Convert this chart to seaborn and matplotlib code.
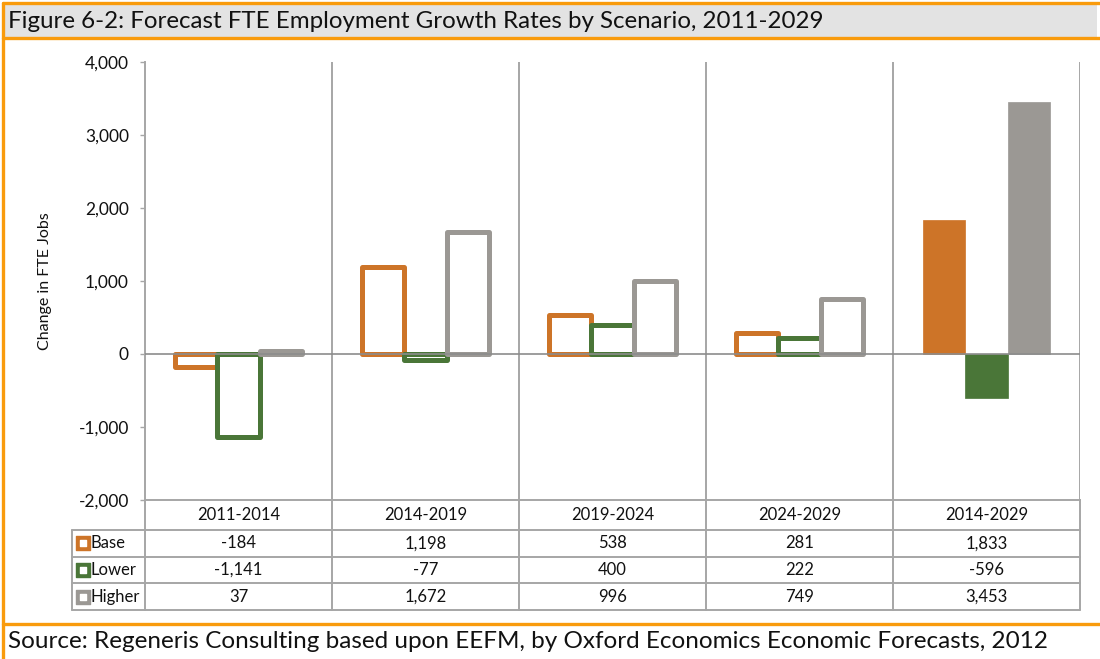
import matplotlib
matplotlib.use("Agg")
import matplotlib.pyplot as plt
from matplotlib.lines import Line2D
from matplotlib.patches import Rectangle
import seaborn as sns
import pandas as pd

# ---------------- data ----------------
periods = ["2011-2014", "2014-2019", "2019-2024", "2024-2029", "2014-2029"]
scenarios = ["Base", "Lower", "Higher"]
base = [-184, 1198, 538, 281, 1833]
lower = [-1141, -77, 400, 222, -596]
higher = [37, 1672, 996, 749, 3453]
y_ticks = [-2000, -1000, 0, 1000, 2000, 3000, 4000]

title = "Figure 6-2: Forecast FTE Employment Growth Rates by Scenario, 2011-2029"
source = "Source: Regeneris Consulting based upon EEFM, by Oxford Economics Economic Forecasts, 2012"
ylabel = "Change in FTE Jobs"

colors = {"Base": "#CD7428", "Lower": "#4A7638", "Higher": "#9B9894"}
ORANGE = "#F99B0C"
GRID = "#A6A6A6"

series = {"Base": base, "Lower": lower, "Higher": higher}
df = pd.DataFrame(
    [(p, s, series[s][i]) for s in scenarios for i, p in enumerate(periods)],
    columns=["period", "scenario", "value"],
)

# ---------------- figure ----------------
sns.set_theme(style="white")
plt.rcParams["font.family"] = ["Lato", "DejaVu Sans"]

W, H = 1100, 659
fig = plt.figure(figsize=(W / 100, H / 100), dpi=100)


def fy(py):
    return 1 - py / H


# frame / title bar
fig.patches.append(Rectangle((3 / W, fy(38)), 1094 / W, 36 / H, transform=fig.transFigure,
                             facecolor="#E3E3E3", edgecolor="none", zorder=0))
lw_b = 2.4
fig.add_artist(Line2D([3 / W, 1], [fy(3), fy(3)], color=ORANGE, lw=lw_b))
fig.add_artist(Line2D([3 / W, 1], [fy(38), fy(38)], color=ORANGE, lw=lw_b))
fig.add_artist(Line2D([3 / W, 1], [fy(624), fy(624)], color=ORANGE, lw=lw_b))
fig.add_artist(Line2D([3 / W, 3 / W], [0, fy(3)], color=ORANGE, lw=lw_b))

fig.text(8 / W, fy(21), title, fontsize=17.4, va="center", ha="left", color="#111111")
fig.text(8 / W, fy(642), source, fontsize=17.5, va="center", ha="left", color="#111111")

FS = 12
# ---------------- main axes ----------------
ax = fig.add_axes([145 / W, fy(500), 935 / W, 438 / H])
sns.barplot(data=df, x="period", y="value", hue="scenario", order=periods,
            hue_order=scenarios, palette=colors, width=0.68, saturation=1,
            errorbar=None, legend=False, ax=ax)

for s, cont in zip(scenarios, ax.containers):
    for j, bar in enumerate(cont):
        bar.set_zorder(3)
        if j < len(periods) - 1:
            bar.set_facecolor("none")
            bar.set_edgecolor(colors[s])
            bar.set_linewidth(3.6)
            bar.set_joinstyle("round")
        else:
            bar.set_facecolor(colors[s])
            bar.set_edgecolor(colors[s])
            bar.set_linewidth(0.5)

ax.set_xlim(-0.5, len(periods) - 0.5)
ax.set_ylim(-2000, 4000)
ax.set_yticks(y_ticks)
ax.set_yticklabels([f"{t:,}" for t in y_ticks])
ax.set_xticks([])
ax.set_xlabel("")
ax.set_ylabel(ylabel, fontsize=11.5, color="#111111")
ax.yaxis.set_label_coords((52 - 145) / 935, 0.5)
ax.tick_params(axis="y", which="major", direction="out", length=3.6, width=1,
               color=GRID, labelsize=12.5, labelcolor="#111111", pad=8, left=True)
for side in ["top", "right"]:
    ax.spines[side].set_visible(False)
for side in ["left", "bottom"]:
    ax.spines[side].set_color(GRID)
    ax.spines[side].set_linewidth(1.4)
ax.axhline(0, color="#8C8C8C", lw=1.2, zorder=4)
for k in range(1, len(periods) + 1):
    ax.axvline(k - 0.5, color=GRID, lw=1.4, zorder=1)

# ---------------- data table ----------------
left_px = 72
x_left = -0.5 - (145 - left_px) / 187.0
tax = fig.add_axes([left_px / W, fy(610), (1080 - left_px) / W, 110 / H])
tax.set_xlim(x_left, len(periods) - 0.5)
rows = [0, 30, 56.7, 83.3, 110]
tax.set_ylim(110, 0)
tax.axis("off")

for k in range(len(periods) + 1):
    tax.plot([k - 0.5, k - 0.5], [0, 110], color=GRID, lw=1.4, clip_on=False)
tax.plot([x_left, x_left], [30, 110], color=GRID, lw=1.4, clip_on=False)
for r in rows[1:]:
    tax.plot([x_left, len(periods) - 0.5], [r, r], color=GRID, lw=1.4, clip_on=False)

for i, p in enumerate(periods):
    tax.text(i, 15.5, p, ha="center", va="center", fontsize=FS, color="#111111")

mk_x = -0.5 - (145 - 83) / 187.0
lab_x = -0.5 - (145 - 91) / 187.0
for r, s in enumerate(scenarios):
    yc = (rows[r + 1] + rows[r + 2]) / 2
    tax.scatter([mk_x], [yc], marker="s", s=110, color=colors[s], clip_on=False, zorder=3)
    tax.scatter([mk_x], [yc], marker="s", s=14, color="white", clip_on=False, zorder=4)
    tax.text(lab_x, yc, s, ha="left", va="center", fontsize=FS, color="#111111")
    for i, v in enumerate(series[s]):
        tax.text(i, yc, f"{v:,}", ha="center", va="center", fontsize=FS, color="#111111")

fig.savefig("out.png", dpi=100)
